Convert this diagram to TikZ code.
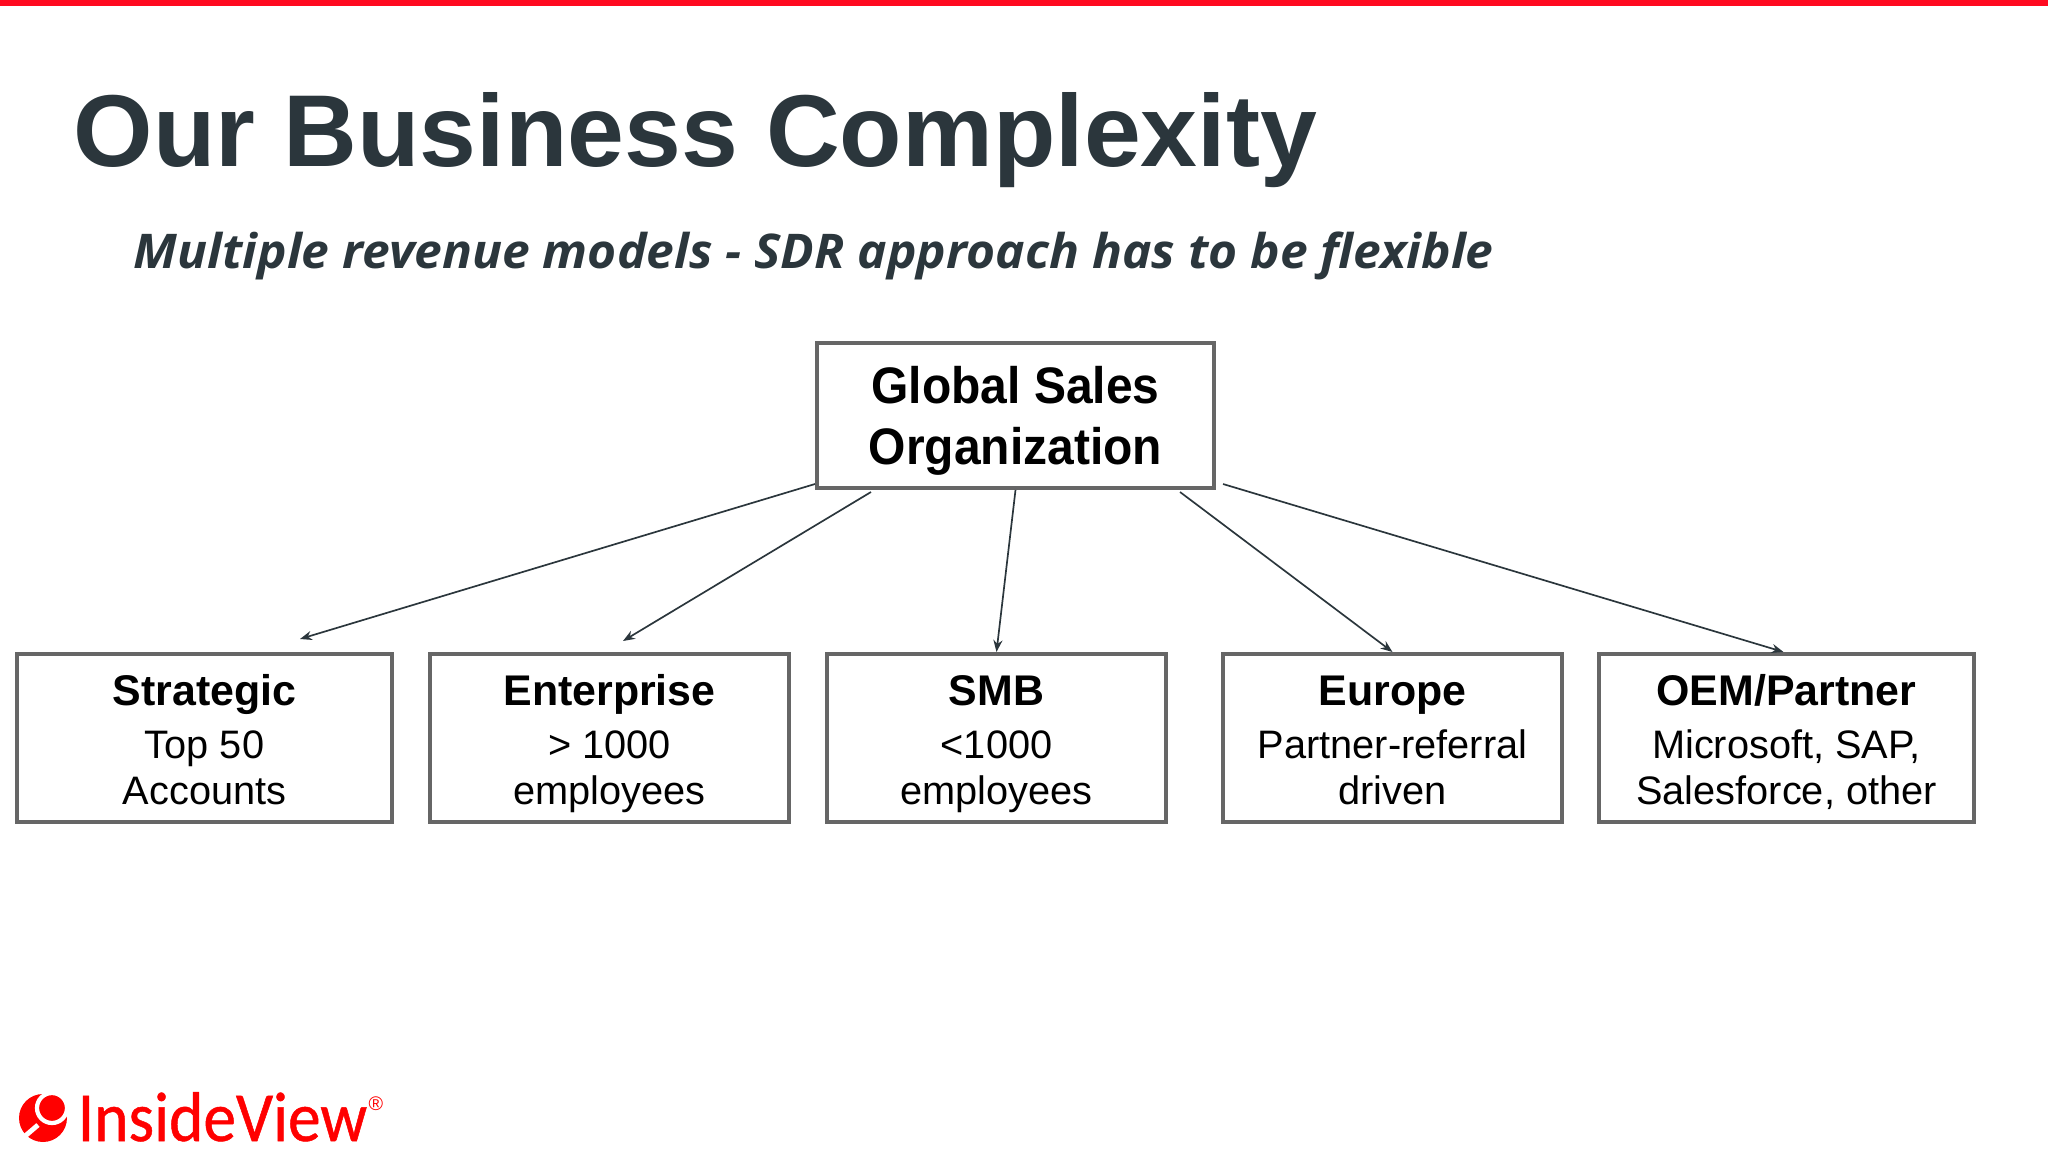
\documentclass[tikz,border=0pt]{standalone}
\usepackage{fontspec}
\setmainfont{Liberation Sans}
\newfontfamily\subfont[FakeStretch=1.04]{Open Sans}
\newfontfamily\logofont[FakeStretch=0.93,FakeBold=0.7]{Carlito}
\newfontfamily\globalfont[FakeStretch=0.935]{Liberation Sans}
\usetikzlibrary{calc,arrows.meta}
\definecolor{titlegray}{HTML}{2B363C}
\definecolor{boxgray}{HTML}{666666}
\definecolor{brandred}{HTML}{FF0A20}
\definecolor{logored}{HTML}{FF0000}
\tikzset{
  box/.style={draw=boxgray,line width=1.15pt,fill=white,inner sep=0pt,align=center,text=black,execute at end node=\strut},
  leaf/.style={box,minimum height=168*0.01cm,font=\fontsize{11.3}{13.1}\selectfont},
  link/.style={draw=titlegray,line width=0.48pt,-{Stealth[length=3.4pt,width=2.6pt]}}
}
\newcommand{\leafhead}[1]{\rule{0pt}{13.6pt}{\fontsize{12.2}{14.2}\selectfont\bfseries #1}\\[1.85pt]}
\begin{document}
\begin{tikzpicture}[x=0.01cm,y=-0.01cm]
      \useasboundingbox (0,0) rectangle (2048,1152);
      \fill [brandred] (0,0) rectangle (2048,6);

      \node [anchor=base west,inner sep=0pt,text=titlegray,font=\fontsize{29.05}{34}\selectfont\bfseries] (title) at (73,167) {Our Business Complexity};
      \node [anchor=base west,inner sep=0pt,text=titlegray,font=\fontsize{13.6}{16}\subfont\bfseries\itshape] (subtitle) at (133,269) {Multiple revenue models - SDR approach has to be flexible};

      \node [box,minimum width=397*0.01cm,minimum height=145*0.01cm,font=\fontsize{14.6}{17.4}\globalfont\bfseries] (global) at (1015.5,415.5) {\rule{0pt}{15.6pt}Global Sales\\Organization};

      \node [leaf,minimum width=375*0.01cm] (strategic) at (204.5,738) {\leafhead{Strategic}Top 50\\Accounts};
      \node [leaf,minimum width=359*0.01cm] (enterprise) at (609.5,738) {\leafhead{Enterprise}> 1000\\employees};
      \node [leaf,minimum width=339*0.01cm] (smb) at (996.5,738) {\leafhead{SMB}<1000\\employees};
      \node [leaf,minimum width=339*0.01cm] (europe) at (1392.5,738) {\leafhead{Europe}Partner-referral\\driven};
      \node [leaf,minimum width=375*0.01cm] (oem) at (1786.5,738) {\leafhead{OEM/Partner}Microsoft, SAP,\\Salesforce, other};

      % free ends of the two outer arrows stop short of their boxes
      \coordinate (strategicend) at (300,639);
      \coordinate (enterpriseend) at (623,641);

      \draw [link] ($(global.south west)+(0,-6)$) -- (strategicend);
      \draw [link] ($(global.south west)+(56,2)$) -- (enterpriseend);
      \draw [link] (global.south) -- (smb.north);
      \draw [link] ($(global.south east)+(-36,2)$) -- (europe.north);
      \draw [link] ($(global.south east)+(7,-6)$) -- ($(oem.north)+(-3,0)$);

      % logo
      \fill [logored] (43,1118) circle (24);
      \draw [white,line width=1.4pt] (38,1125) -- (24,1137);
      \draw [white,line width=1.2pt,fill=logored] (52,1108) circle (15);
      \node [anchor=base west,inner sep=0pt,text=logored,font=\fontsize{20}{24}\logofont] (logo) at (77,1141) {InsideView};
      \node [anchor=center,inner sep=0pt,text=logored,font=\fontsize{5.6}{6}\selectfont] (reg) at (376,1104) {®};
\end{tikzpicture}
\end{document}
